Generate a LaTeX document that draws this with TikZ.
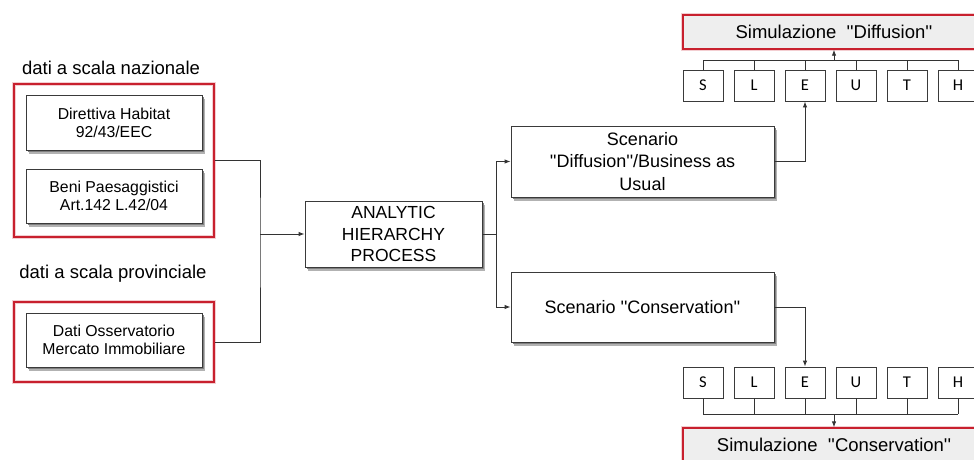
\documentclass[tikz,border=0pt]{standalone}
\usepackage{fontspec}
\setmainfont{Liberation Sans}
\newfontfamily\letterfont{Carlito}
\usetikzlibrary{arrows.meta, positioning}
\definecolor{framered}{HTML}{C8202E}
\definecolor{boxgray}{HTML}{3A3A3A}
\definecolor{linegray}{HTML}{333333}
\definecolor{simgray}{HTML}{EEEEEE}
\newcommand{\qtext}[1]{\textquotesingle\textquotesingle#1\textquotesingle\textquotesingle}

\tikzset{
  infobox/.style={draw=boxgray, fill=white, line width=0.9pt, align=center, inner sep=0pt,
    preaction={fill=black!30, transform canvas={xshift=3pt, yshift=-3.5pt}},
    preaction={fill=black!50, transform canvas={xshift=1.8pt, yshift=-2.2pt}}},
  redframe/.style={draw=framered, line width=1.4pt,
    preaction={draw=framered!22, line width=4pt}},
  simbox/.style={redframe, fill=simgray, inner sep=0pt, minimum width=302pt,
    minimum height=34pt, font=\fontsize{18.5}{21}\selectfont},
  letterbox/.style={draw=boxgray, fill=white, line width=0.9pt, minimum width=40pt,
    minimum height=31pt, inner sep=0pt, font=\letterfont\fontsize{16.5}{18}\selectfont},
  link/.style={draw=linegray, line width=0.9pt},
  linkarrow/.style={link, -{Latex[length=6pt, width=4.5pt]}},
  datafont/.style={font=\fontsize{15.8}{18}\selectfont},
  scenfont/.style={font=\fontsize{18}{22.5}\selectfont},
  labelfont/.style={font=\fontsize{18.5}{21}\selectfont},
}

\begin{document}
\begin{tikzpicture}[x=1pt, y=-1pt]
  \clip (0,0) rectangle (974,459);

  % --- Input data ---
  % scala nazionale
  \node[labelfont] (lblnaz) at (111,68) {dati a scala nazionale};
  \node[redframe, minimum width=200pt, minimum height=153pt] (naz) at (114,160.5) {};
  \node[infobox, datafont, minimum width=176pt, minimum height=55pt]
    (habitat) at (114,122.5) {Direttiva Habitat\\92/43/EEC};
  \node[infobox, datafont, minimum width=176pt, minimum height=54pt]
    (beni) at (114,196) {Beni Paesaggistici\\Art.142 L.42/04};

  % scala provinciale
  \node[labelfont] (lblprov) at (113,274) {dati a scala provinciale};
  \node[redframe, minimum width=200pt, minimum height=80pt] (prov) at (114,342) {};
  \node[infobox, datafont, minimum width=176pt, minimum height=54pt]
    (osserv) at (114,340) {Dati Osservatorio\\Mercato Immobiliare};

  % --- AHP ---
  \node[infobox, minimum width=177pt, minimum height=66pt, font=\fontsize{17.5}{21.5}\selectfont]
    (ahp) at (393.5,234) {ANALYTIC\\HIERARCHY\\PROCESS};

  % --- Scenarios ---
  \node[infobox, scenfont, minimum width=263pt, minimum height=71pt]
    (scendiff) at (642.5,161.5) {Scenario\\\qtext{Diffusion}/Business as\\Usual};
  \node[infobox, scenfont, minimum width=263pt, minimum height=70pt]
    (scencons) at (642.5,307) {Scenario \qtext{Conservation}};

  % --- Simulations ---
  \node[simbox] (simdiff) at (834,32) {Simulazione\ \ \qtext{Diffusion}};
  \node[simbox] (simcons) at (834,445) {Simulazione\ \ \qtext{Conservation}};

  % SLEUTH boxes
  \foreach \l [count=\i from 0] in {S,L,E,U,T,H} {
    \node[letterbox] (top\l) at (703+51*\i,85.5) {\l};
    \node[letterbox] (bot\l) at (703+51*\i,382.5) {\l};
  }

  % --- Connectors ---
  \coordinate (join) at (260,234);
  \draw[link] (naz.east) -| (join) |- (prov.east);
  \draw[linkarrow] (join) -- (ahp.west);

  \coordinate (fork) at (496,234);
  \draw[link] (ahp.east) -- (fork);
  \draw[linkarrow] (fork) |- (scendiff.west);
  \draw[linkarrow] (fork) |- (scencons.west);

  \draw[linkarrow] (scendiff.east) -| (topE.south);
  \draw[linkarrow] (scencons.east) -| (botE.north);

  % bus lines
  \coordinate (bustop) at (0,60);
  \coordinate (busbot) at (0,414);
  \foreach \l in {S,L,E,U,T,H} {
    \draw[link] (top\l.north) -- (top\l.north |- bustop);
    \draw[link] (bot\l.south) -- (bot\l.south |- busbot);
  }
  \draw[link] (topS.north |- bustop) -- (topH.north |- bustop);
  \draw[link] (botS.south |- busbot) -- (botH.south |- busbot);
  \draw[linkarrow] (simdiff.south |- bustop) -- (simdiff.south);
  \draw[linkarrow] (simcons.north |- busbot) -- (simcons.north);

\end{tikzpicture}
\end{document}
